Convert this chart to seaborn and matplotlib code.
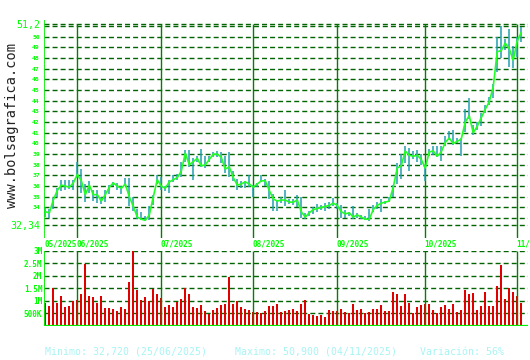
import numpy as np
import pandas as pd
import matplotlib
matplotlib.use("Agg")
import matplotlib.pyplot as plt
import matplotlib.transforms as mtrans
import seaborn as sns

# ---------------- data ----------------
dates = pd.bdate_range("2025-05-21", "2025-11-04")

close = [33.6, 33.5, 34.7, 35.6, 36.1, 36.0, 35.9, 36.3,
         37.1, 36.5, 35.2, 36.1, 35.2, 35.2, 34.6, 35.2, 35.9, 36.3, 36.0, 35.8, 36.2, 35.0, 34.1, 33.1, 32.9, 32.8, 33.3, 35.0, 36.6,
         36.0, 35.8, 36.4, 36.6, 36.8, 37.4, 39.1, 38.0, 38.3, 38.6, 37.9, 38.0, 38.5, 39.0, 39.0, 38.7, 37.6, 37.8, 36.8, 36.1, 36.2, 36.4, 36.2,
         35.9, 36.2, 36.5, 36.5, 35.6, 34.8, 34.6, 34.7, 34.7, 34.5, 34.5, 34.7, 33.6, 33.1, 33.5, 33.8, 33.9, 34.0, 34.1, 34.2, 34.4,
         34.2, 33.6, 33.4, 33.5, 33.1, 33.3, 33.1, 32.9, 32.9, 33.8, 34.2, 34.4, 34.5, 34.6, 35.9, 37.7, 37.9, 39.3, 38.9, 38.8, 38.9, 38.5,
         37.7, 39.2, 39.3, 38.8, 39.2, 40.1, 40.5, 40.0, 40.2, 40.4, 42.0, 42.6, 41.0, 41.6, 42.4, 43.2, 43.9, 45.3, 48.6, 48.7, 49.4, 48.9, 47.8,
         49.6, 50.4]

high = [34.0, 33.9, 34.9, 35.8, 36.6, 36.6, 36.6, 36.6,
        38.3, 37.6, 36.2, 36.5, 35.6, 35.6, 35.0, 35.6, 36.1, 36.4, 36.3, 36.0, 36.8, 36.8, 35.0, 33.9, 33.6, 33.2, 34.1, 35.2, 37.0,
        36.9, 36.0, 36.6, 37.0, 37.1, 38.3, 39.4, 39.4, 38.6, 38.8, 39.5, 38.8, 38.8, 39.2, 39.3, 39.2, 38.8, 39.2, 37.4, 36.7, 36.5, 36.5, 37.0,
        36.1, 36.3, 37.0, 36.7, 36.5, 35.3, 34.7, 35.0, 35.6, 34.8, 34.8, 35.2, 35.0, 33.5, 33.7, 34.0, 34.3, 34.2, 34.4, 34.5, 34.9,
        34.4, 34.2, 33.8, 33.6, 34.1, 33.5, 33.3, 33.2, 33.9, 34.2, 34.5, 34.8, 34.6, 35.0, 36.1, 38.2, 39.0, 39.8, 39.6, 39.3, 39.4, 39.0,
        37.9, 39.5, 39.8, 39.8, 39.8, 40.7, 41.2, 41.3, 40.5, 40.5, 43.2, 44.3, 41.7, 42.0, 42.9, 43.6, 44.4, 45.6, 50.0, 51.0, 49.8, 50.7, 49.1,
        50.0, 50.9]

low = [33.1, 33.0, 33.9, 35.0, 35.5, 35.6, 35.7, 35.6,
       36.8, 35.4, 34.5, 35.4, 34.6, 34.4, 34.3, 34.5, 35.3, 36.0, 35.6, 35.3, 36.0, 34.1, 33.7, 32.9, 32.8, 32.72, 32.8, 34.2, 36.2,
       35.6, 35.5, 35.4, 36.4, 36.6, 36.9, 38.3, 37.8, 36.6, 38.3, 37.8, 37.7, 38.3, 38.7, 38.7, 38.2, 37.2, 36.9, 36.5, 35.6, 35.8, 35.8, 35.9,
       35.0, 35.9, 36.4, 36.0, 34.8, 33.7, 33.7, 34.4, 34.1, 34.3, 34.2, 34.0, 33.0, 32.9, 33.2, 33.4, 33.6, 33.8, 33.7, 33.9, 34.1,
       33.9, 33.0, 33.0, 33.2, 32.9, 33.0, 32.9, 32.8, 32.7, 33.6, 33.9, 33.6, 34.3, 34.5, 35.0, 36.2, 36.7, 38.2, 37.4, 38.5, 38.3, 38.0,
       36.5, 38.8, 38.9, 38.7, 38.4, 39.8, 40.3, 39.9, 40.0, 38.8, 41.1, 42.3, 40.8, 41.3, 41.6, 42.9, 43.6, 44.3, 46.7, 48.0, 48.8, 47.2, 47.1,
       48.1, 49.5]

volume_m = [0.93, 0.81, 1.52, 0.93, 1.21, 0.77, 0.81, 1.00,
            1.05, 1.27, 2.49, 1.21, 1.17, 0.93, 1.21, 0.73, 0.73, 0.69, 0.61, 0.77, 0.69, 1.74, 3.00, 1.45, 1.05, 1.17, 1.00, 1.47, 1.29,
            1.13, 0.77, 0.85, 0.77, 0.97, 1.09, 1.52, 1.29, 0.77, 0.73, 0.85, 0.61, 0.48, 0.65, 0.73, 0.85, 0.89, 1.94, 0.89, 1.01, 0.77, 0.69, 0.65,
            0.57, 0.57, 0.52, 0.61, 0.81, 0.81, 0.89, 0.57, 0.61, 0.65, 0.69, 0.61, 0.89, 1.05, 0.49, 0.44, 0.40, 0.44, 0.36, 0.65, 0.61,
            0.60, 0.69, 0.57, 0.52, 0.89, 0.65, 0.69, 0.52, 0.57, 0.69, 0.69, 0.85, 0.61, 0.61, 1.37, 1.29, 0.81, 1.27, 0.93, 0.52, 0.77, 0.85,
            0.89, 0.89, 0.65, 0.52, 0.77, 0.85, 0.69, 0.89, 0.57, 0.65, 1.45, 1.29, 1.33, 0.65, 0.81, 1.37, 0.81, 0.81, 1.61, 2.42, 1.09, 1.51, 1.37,
            1.20, 0.93]

price_ticks = list(range(34, 51))
price_grid = [32.34] + list(range(33, 52)) + [51.2]
price_min, price_max = 32.34, 51.2
vol_ticks = [0.5, 1.0, 1.5, 2.0, 2.5, 3.0]
vol_labels = ["500K", "1M", "1.5M", "2M", "2.5M", "3M"]
summary = ["Minimo: 32,720 (25/06/2025)", "Maximo: 50,900 (04/11/2025)", "Variación: 56%"]
watermark = "www.bolsagrafica.com"

# ---------------- style ----------------
sns.set_theme(style="white")
plt.rcParams["font.family"] = ["DejaVu Sans Mono", "DejaVu Sans"]

GRID = "#006400"
MONTH = "#008000"
BRIGHT = "#00ee00"
LINE = "#22ff22"
TEAL = "#20a0b0"
RED = "#e00000"
CYAN = "#a8f4f4"

W, H = 530, 360
fig = plt.figure(figsize=(W / 100, H / 100), dpi=100)
fig.patch.set_facecolor("white")


def px(l, t, r, b):
    return [l / W, 1 - b / H, (r - l) / W, (b - t) / H]


n = len(close)
idx = np.arange(n)
xlim = (-0.33, 120.7)
month_idx = [i for i in range(1, len(dates)) if dates[i].month != dates[i - 1].month
             and i < n]

# ---------------- price panel ----------------
ax = fig.add_axes(px(44, 20, 528, 238))
ax.set_frame_on(False)
for v in price_grid:
    ax.plot(xlim, [v, v], color=GRID, lw=1.0, dashes=(3.6, 2.2), zorder=1)
ax.vlines(month_idx, 31.0, price_max, color=MONTH, lw=1.0, zorder=2)
ax.vlines(idx, low, high, color=TEAL, lw=1.1, zorder=3)
ax.plot(idx, close, color=LINE, lw=1.2, zorder=4)
ax.set_xlim(*xlim)
ax.set_ylim(31.14, 51.57)
ax.axvline(xlim[0] + 0.1, color=BRIGHT, lw=1.2, zorder=5)
ax.set_xticks([])
ticks = price_ticks + [price_min, price_max]
labels = [str(t) for t in price_ticks] + ["32,34", "51,2"]
ax.set_yticks(ticks)
ax.set_yticklabels(labels)
ax.tick_params(axis="y", length=0, pad=3, colors="#00ff00", right=False, labelright=False)
for lab in ax.get_yticklabels():
    if lab.get_text() in ("32,34", "51,2"):
        lab.set_fontsize(7.2)
    else:
        lab.set_fontsize(4.6)
        lab.set_fontweight("bold")

# month labels (the last one is cut at the picture edge in the original: "11/")
tr = mtrans.blended_transform_factory(ax.transData, fig.transFigure)
label_pos = [0] + month_idx
for k, i in enumerate(label_pos):
    txt = dates[i].strftime("%m/%Y")
    if k == len(label_pos) - 1:
        txt = dates[i].strftime("%m/")
    ax.text(i - 0.3, 1 - 244 / H, txt, transform=tr,
            color="#00ff00", fontsize=5.6, fontweight="bold", ha="left", va="center")

# ---------------- volume panel ----------------
axv = fig.add_axes(px(44, 250.7, 528, 326))
axv.set_frame_on(False)
for v in vol_ticks:
    axv.plot(xlim, [v, v], color=GRID, lw=1.0, dashes=(3.6, 2.2), zorder=0)
sns.barplot(x=idx, y=volume_m, ax=axv, color=RED, saturation=1, width=0.5,
            edgecolor=RED, linewidth=0, zorder=2)
axv.vlines(month_idx, 0, 3.0, color=MONTH, lw=1.0, zorder=3)
axv.set_xlim(*xlim)
axv.set_ylim(0, 3.0)
axv.axvline(xlim[0] + 0.1, color=BRIGHT, lw=1.3, zorder=5)
axv.axhline(0.0, color=BRIGHT, lw=1.6, zorder=5)
axv.set_xticks([])
axv.set_xlabel("")
axv.set_ylabel("")
axv.set_yticks(vol_ticks)
axv.set_yticklabels(vol_labels)
axv.tick_params(axis="y", length=0, pad=1.2, colors="#00ff00", labelsize=5.5,
                right=False, labelright=False)
for lab in axv.get_yticklabels():
    lab.set_fontweight("bold")

# ---------------- texts ----------------
fig.text(12 / W, 1 - 126 / H, watermark, rotation=90, ha="center", va="center",
         fontsize=9.8, color="#222222")
for txt, x in zip(summary, [45, 235, 420]):
    fig.text(x / W, 1 - 352 / H, txt, ha="left", va="center", fontsize=7.1, color=CYAN)

fig.savefig("out.png", dpi=100, facecolor="white")
